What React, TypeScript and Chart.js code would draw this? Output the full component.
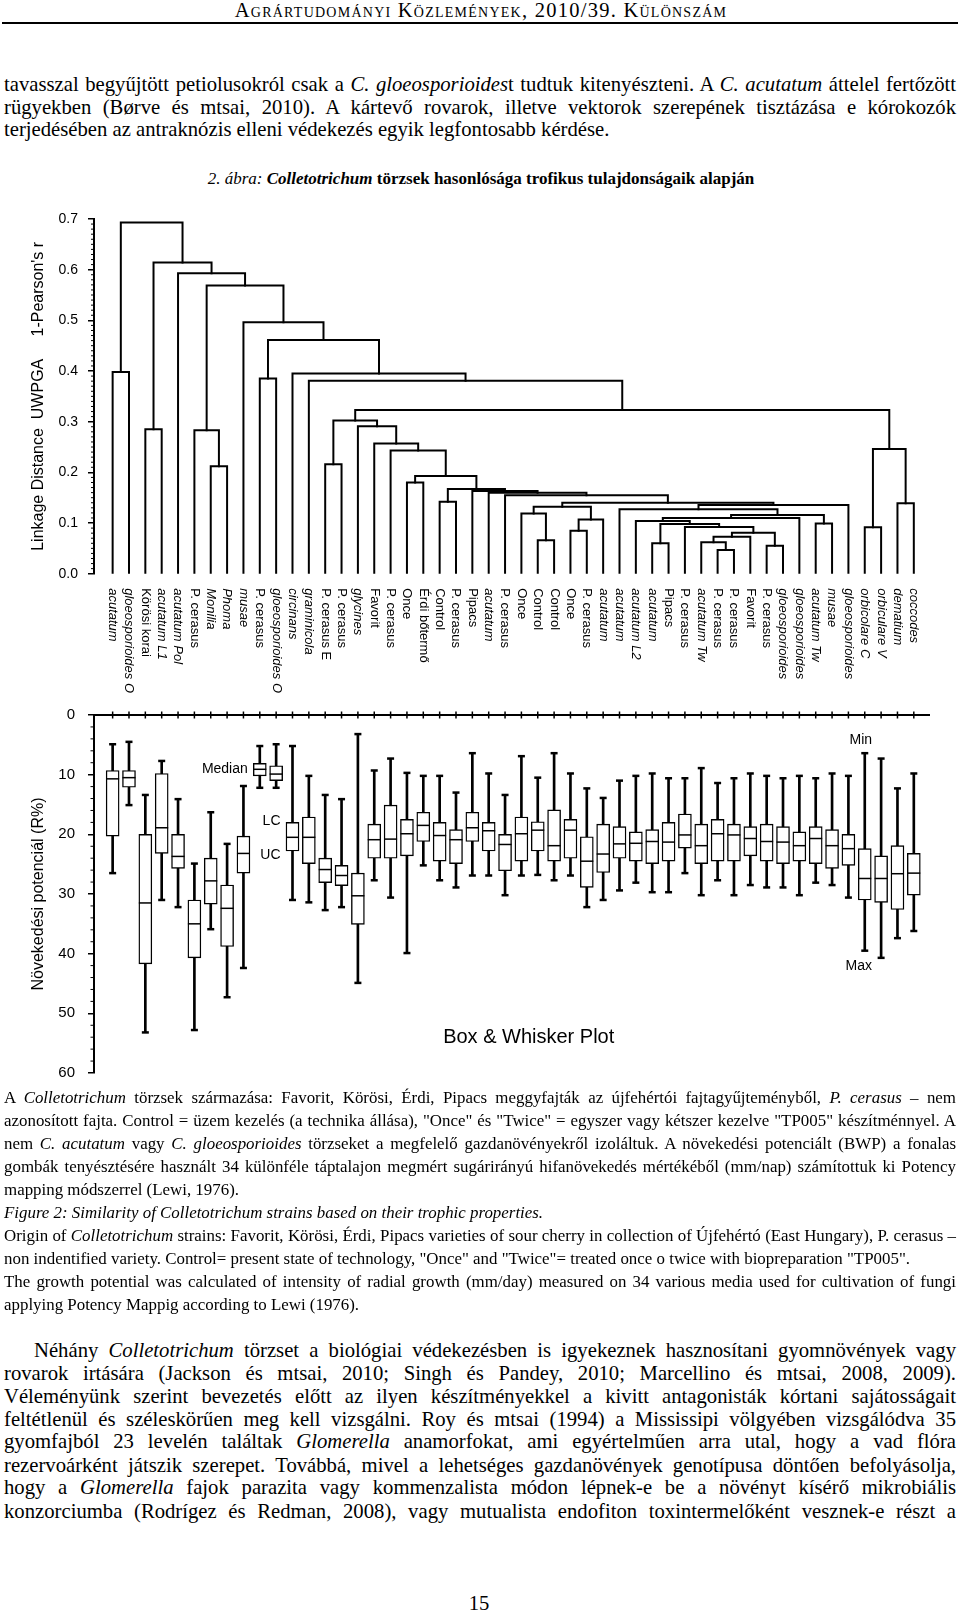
import React, { useEffect, useRef } from "react";
import { Chart, registerables } from "chart.js";

Chart.register(...registerables);

const SANS = "'Liberation Sans', Arial, sans-serif";
const SERIF = "'Liberation Serif', 'Times New Roman', serif";

// ---------------- Dendrogram data ----------------
const leafLabels = [
  "acutatum", "gloeosporioides O", "Körösi korai", "acutatum L1", "acutatum Pol",
  "P. cerasus", "Monilia", "Phoma", "musae", "P. cerasus",
  "gloeosporioides O", "circinans", "graminicola", "P. cerasus E", "P. cerasus",
  "glycines", "Favorit", "P. cerasus", "Once", "Érdi bőtermő",
  "Control", "P. cerasus", "Pipacs", "acutatum", "P. cerasus",
  "Once", "Control", "Control", "Once", "P. cerasus",
  "acutatum", "acutatum", "acutatum L2", "acutatum", "Pipacs",
  "P. cerasus", "acutatum Tw", "P. cerasus", "P. cerasus", "Favorit",
  "P. cerasus", "gloeosporioides", "gloeosporioides", "acutatum Tw", "musae",
  "gloeosporioides", "orbicolare C", "orbiculare V", "dematium", "coccodes",
];
const italicLeaves = [
  true, true, false, true, true, false, true, true, true, false,
  true, true, true, false, false, true, false, false, false, false,
  false, false, false, true, false, false, false, false, false, false,
  true, true, true, true, false, false, true, false, false, false,
  false, true, true, true, true, true, true, true, true, true,
];

// linkage (ids 0..49 = leaves, 50+k = k-th merge)
const mergeLeft = [
  6, 5, 0, 2, 9, 13, 18, 20, 26, 25,
  28, 60, 59, 37, 36, 64, 40, 65, 35, 33,
  69, 32, 71, 43, 72, 31, 75, 62, 24, 23,
  22, 57, 56, 17, 16, 15, 55, 46, 48, 87,
  86, 12, 11, 54, 8, 51, 4, 53, 52,
];
const mergeRight = [
  7, 50, 1, 3, 10, 14, 19, 21, 27, 58,
  29, 30, 61, 38, 63, 39, 41, 66, 67, 34,
  68, 70, 42, 44, 73, 74, 45, 76, 77, 78,
  79, 80, 81, 82, 83, 84, 85, 47, 49, 88,
  89, 90, 91, 92, 93, 94, 95, 96, 97,
];
const mergeHeight = [
  0.212, 0.283, 0.398, 0.285, 0.385, 0.216, 0.18, 0.142, 0.066, 0.119,
  0.085, 0.107, 0.132, 0.047, 0.062, 0.073, 0.055, 0.081, 0.092, 0.06,
  0.098, 0.104, 0.11, 0.099, 0.116, 0.127, 0.1355, 0.14, 0.155, 0.16,
  0.163, 0.167, 0.193, 0.243, 0.257, 0.291, 0.3025, 0.0915, 0.139, 0.246,
  0.323, 0.381, 0.395, 0.461, 0.496, 0.569, 0.593, 0.614, 0.693,
];
const distTicks = [0, 0.1, 0.2, 0.3, 0.4, 0.5, 0.6, 0.7];

// ---------------- Box plot data (R%) ----------------
const boxMin = [
  4.9, 4.5, 13.4, 7.7, 14.1, 24.9, 16.3, 21.6, 11.9, 5.2,
  4.9, 5.2, 10.2, 13.4, 14.1, 3.2, 9.3, 7.3, 9.7, 10.2,
  10.2, 13.0, 6.4, 9.8, 13.4, 6.9, 10.5, 6.4, 9.8, 12.3,
  13.9, 11.0, 10.2, 9.8, 10.6, 10.6, 8.9, 11.4, 10.6, 9.8,
  10.2, 10.6, 10.2, 10.6, 9.8, 10.2, 6.4, 7.3, 12.3, 9.8,
];
const boxQ1 = [
  9.3, 9.3, 20.0, 9.8, 20.0, 31.0, 24.0, 28.5, 20.3, 8.1,
  8.5, 18.0, 17.1, 24.0, 25.2, 26.5, 18.3, 15.1, 17.5, 16.3,
  18.0, 19.2, 16.3, 18.0, 20.0, 17.1, 17.9, 15.9, 17.5, 20.4,
  18.3, 18.7, 19.6, 19.2, 18.0, 16.6, 18.3, 17.5, 18.3, 18.7,
  18.3, 18.7, 19.6, 18.7, 19.2, 20.0, 22.4, 23.6, 21.9, 23.2,
];
const boxMedian = [
  10.7, 10.5, 31.5, 18.9, 23.7, 35.0, 27.8, 32.4, 23.2, 9.1,
  9.9, 20.5, 20.5, 25.9, 26.9, 30.3, 20.9, 20.8, 19.9, 18.5,
  20.2, 20.9, 18.9, 19.4, 21.7, 19.9, 19.3, 21.9, 19.3, 24.5,
  23.3, 21.6, 21.5, 21.2, 21.3, 20.1, 21.9, 19.9, 20.1, 20.7,
  21.2, 21.3, 21.9, 20.7, 21.9, 22.4, 27.4, 27.4, 26.6, 26.5,
];
const boxQ3 = [
  20.3, 12.1, 41.7, 23.2, 25.7, 40.7, 31.7, 38.8, 26.5, 10.2,
  11.0, 22.8, 24.9, 28.1, 28.6, 35.1, 24.0, 24.0, 23.6, 21.2,
  24.5, 24.9, 21.2, 22.8, 26.1, 24.5, 22.8, 24.5, 24.0, 28.9,
  26.4, 24.0, 24.5, 24.9, 24.5, 22.3, 24.9, 24.5, 24.5, 23.6,
  24.5, 24.9, 24.5, 24.9, 25.7, 25.2, 31.0, 31.4, 32.6, 30.2,
];
const boxMax = [
  26.5, 15.1, 53.2, 31.0, 32.2, 52.8, 35.9, 47.3, 42.4, 12.2,
  12.2, 31.0, 31.4, 32.7, 32.2, 44.9, 27.7, 30.6, 39.9, 25.2,
  27.7, 28.9, 26.9, 26.9, 30.2, 26.9, 26.8, 27.7, 26.9, 32.2,
  31.0, 29.4, 28.1, 29.7, 29.7, 26.5, 30.2, 27.7, 30.2, 28.5,
  28.9, 28.9, 30.2, 28.1, 28.5, 30.6, 39.5, 40.7, 37.4, 36.2,
];
const growthTicks = [0, 10, 20, 30, 40, 50, 60];

const X_MIN = -0.14;
const X_MAX = 50.99;

function dendroSegments() {
  const pos: number[] = leafLabels.map((_, i) => i + 1);
  const hgt: number[] = leafLabels.map(() => 0);
  const segs: { x: number; y: number }[][] = [];
  for (let k = 0; k < mergeLeft.length; k++) {
    const a = mergeLeft[k];
    const b = mergeRight[k];
    const h = mergeHeight[k];
    segs.push([
      { x: pos[a], y: hgt[a] },
      { x: pos[a], y: h },
      { x: pos[b], y: h },
      { x: pos[b], y: hgt[b] },
    ]);
    pos.push((pos[a] + pos[b]) / 2);
    hgt.push(h);
  }
  return segs;
}

const dendroExtras = {
  id: "dendroExtras",
  afterDraw(chart: any) {
    const { ctx, chartArea: ca, scales } = chart;
    const x = scales.x;
    const y = scales.y;
    ctx.save();
    ctx.strokeStyle = "#000";
    ctx.lineWidth = 1;
    for (let v = 1; v < 70; v++) {
      if (v % 10 === 0) continue;
      const py = y.getPixelForValue(v / 100);
      ctx.beginPath();
      ctx.moveTo(ca.left - 3, py);
      ctx.lineTo(ca.left, py);
      ctx.stroke();
    }
    ctx.fillStyle = "#000";
    ctx.textAlign = "left";
    ctx.textBaseline = "middle";
    leafLabels.forEach((lab, i) => {
      const px = x.getPixelForValue(i + 1);
      ctx.save();
      ctx.translate(px, ca.bottom + 14.5);
      ctx.rotate(Math.PI / 2);
      ctx.font = `${italicLeaves[i] ? "italic " : ""}13px ${SANS}`;
      ctx.fillText(lab, 0, 0);
      ctx.restore();
    });
    ctx.restore();
  },
};

const boxExtras = {
  id: "boxExtras",
  afterDraw(chart: any) {
    const { ctx, chartArea: ca, scales } = chart;
    const x = scales.x;
    const y = scales.y;
    ctx.save();
    ctx.strokeStyle = "#000";
    ctx.lineWidth = 2;
    ctx.beginPath();
    ctx.moveTo(ca.left, ca.top);
    ctx.lineTo(ca.right, ca.top);
    ctx.stroke();
    ctx.lineWidth = 1.5;
    for (let i = 1; i <= boxMedian.length; i++) {
      const px = x.getPixelForValue(i);
      ctx.beginPath();
      ctx.moveTo(px, ca.top - 3.5);
      ctx.lineTo(px, ca.top + 3.5);
      ctx.stroke();
    }
    ctx.lineWidth = 1;
    for (let v = 2; v < 60; v += 2) {
      if (v % 10 === 0) continue;
      const py = y.getPixelForValue(v);
      ctx.beginPath();
      ctx.moveTo(ca.left - 3.5, py);
      ctx.lineTo(ca.left, py);
      ctx.stroke();
    }
    ctx.fillStyle = "#000";
    ctx.font = `14px ${SANS}`;
    ctx.textBaseline = "middle";
    ctx.textAlign = "right";
    ctx.fillText("Median", x.getPixelForValue(10) - 12, y.getPixelForValue(boxMedian[9]));
    ctx.fillText("LC", x.getPixelForValue(12) - 12, y.getPixelForValue(boxQ1[11]) - 1);
    ctx.fillText("UC", x.getPixelForValue(12) - 12, y.getPixelForValue(boxQ3[11]) + 4);
    ctx.textAlign = "center";
    ctx.fillText("Min", x.getPixelForValue(47) - 4, y.getPixelForValue(boxMin[46]) - 13);
    ctx.fillText("Max", x.getPixelForValue(47) - 6, y.getPixelForValue(boxMax[46]) + 15);
    ctx.font = `20px ${SANS}`;
    ctx.fillText("Box & Whisker Plot", ca.left + (ca.right - ca.left) * 0.52, ca.top + (ca.bottom - ca.top) * 0.9);
    ctx.restore();
  },
};

function axisY(min: number, max: number, digits: number, title: string, reverse: boolean, tickSize: number, tickPad: number) {
  return {
    type: "linear",
    position: "left",
    min,
    max,
    reverse,
    afterFit: (s: any) => {
      s.width = 94;
    },
    afterBuildTicks: (s: any) => {
      const src = digits ? distTicks : growthTicks;
      s.ticks = src.map((v) => ({ value: v }));
    },
    ticks: {
      color: "#000",
      padding: tickPad,
      font: { family: SANS, size: tickSize },
      callback: (v: any) => Number(v).toFixed(digits),
    },
    grid: { drawOnChartArea: false, drawTicks: true, tickLength: 6, color: "#000", lineWidth: 1.5 },
    border: { display: true, color: "#000", width: 2 },
    title: {
      display: true,
      text: title,
      color: "#000",
      font: { family: SANS, size: 16 },
      padding: { top: 29, bottom: 0 },
    },
  };
}

function TL(props: any) {
  const { y, size, just, left = 4, width = 952, center, children, style } = props;
  const align = center ? "center" : just ? "justify" : "left";
  return (
    <div
      style={{
        position: "absolute",
        left,
        top: y - 0.8375 * size,
        width,
        fontFamily: SERIF,
        fontSize: size,
        lineHeight: `${size}px`,
        textAlign: align as any,
        textAlignLast: align as any,
        color: "#000",
        ...style,
      }}
    >
      {children}
    </div>
  );
}

const BODY = 20.7;
const CAP = 16.9;

export default function App() {
  const dRef = useRef<HTMLCanvasElement>(null);
  const bRef = useRef<HTMLCanvasElement>(null);

  useEffect(() => {
    const segs = dendroSegments();
    const c1 = new Chart(dRef.current as HTMLCanvasElement, {
      type: "line",
      data: {
        datasets: segs.map((s) => ({
          data: s,
          borderColor: "#000",
          borderWidth: 2,
          pointRadius: 0,
          fill: false,
          tension: 0,
          borderCapStyle: "square",
          borderJoinStyle: "miter",
        })),
      } as any,
      options: {
        animation: false,
        responsive: false,
        events: [],
        layout: { padding: { top: 24, right: 30, bottom: 131.3, left: 0 } },
        plugins: { legend: { display: false }, tooltip: { enabled: false } },
        scales: {
          x: { type: "linear", min: X_MIN, max: X_MAX, display: false },
          y: axisY(0, 0.7, 1, "Linkage Distance  UWPGA     1-Pearson's r", false, 14, 10),
        } as any,
      },
      plugins: [dendroExtras],
    });

    const idx = boxMedian.map((_, i) => i);
    const caps = idx
      .map((i) => ({ x: i + 1, y: boxMin[i] }))
      .concat(idx.map((i) => ({ x: i + 1, y: boxMax[i] })));
    const c2 = new Chart(bRef.current as HTMLCanvasElement, {
      type: "bar",
      data: {
        datasets: [
          {
            type: "bar",
            data: idx.map((i) => ({ x: i + 1, y: [boxMin[i], boxMax[i]] })),
            backgroundColor: "#000",
            borderWidth: 0,
            barThickness: 2,
            grouped: false,
            order: 3,
          },
          {
            type: "bar",
            data: idx.map((i) => ({ x: i + 1, y: [boxQ1[i], boxQ3[i]] })),
            backgroundColor: "#fff",
            borderColor: "#000",
            borderWidth: 1.4,
            borderSkipped: false,
            barThickness: 13,
            grouped: false,
            order: 2,
          },
          {
            type: "line",
            data: caps,
            showLine: false,
            pointStyle: "line",
            pointRadius: 3.5,
            pointBorderWidth: 2.5,
            pointBorderColor: "#000",
            borderColor: "#000",
            order: 1,
          },
          {
            type: "line",
            data: idx.map((i) => ({ x: i + 1, y: boxMedian[i] })),
            showLine: false,
            pointStyle: "line",
            pointRadius: 6.5,
            pointBorderWidth: 1.5,
            pointBorderColor: "#000",
            borderColor: "#000",
            order: 0,
          },
        ],
      } as any,
      options: {
        animation: false,
        responsive: false,
        events: [],
        layout: { padding: { top: 22, right: 30, bottom: 22, left: 0 } },
        plugins: { legend: { display: false }, tooltip: { enabled: false } },
        scales: {
          x: { type: "linear", min: X_MIN, max: X_MAX, display: false, offset: false },
          y: axisY(0, 60, 0, "Növekedési potenciál (R%)", true, 15, 13),
        } as any,
      },
      plugins: [boxExtras],
    });
    return () => {
      c1.destroy();
      c2.destroy();
    };
  }, []);

  const capY = [1104.2, 1127.1, 1150.1, 1173.0, 1196.0, 1218.9, 1241.8, 1264.8, 1287.7, 1310.7];
  const bodyY = [1357, 1380.3, 1403, 1426, 1448.7, 1472, 1494.7, 1518];

  return (
    <div style={{ position: "absolute", left: 0, top: 0, width: 960, height: 1613, background: "#fff", overflow: "hidden" }}>
      <TL y={17.5} size={20.5} center left={0} width={962} style={{ fontVariant: "small-caps", letterSpacing: "1.25px" }}>
        Agrártudományi Közlemények, 2010/39. Különszám
      </TL>
      <div style={{ position: "absolute", left: 2, top: 22, width: 956, height: 2, background: "#000" }} />

      <TL y={91.7} size={BODY} just>
        tavasszal begyűjtött petiolusokról csak a <i>C. gloeosporioides</i>t tudtuk kitenyészteni. A <i>C. acutatum</i> áttelel fertőzött
      </TL>
      <TL y={114.3} size={BODY} just>
        rügyekben (Børve és mtsai, 2010). A kártevő rovarok, illetve vektorok szerepének tisztázása e kórokozók
      </TL>
      <TL y={136.7} size={BODY}>
        terjedésében az antraknózis elleni védekezés egyik legfontosabb kérdése.
      </TL>

      <TL y={184} size={17} center left={0} width={962}>
        <i>2. ábra: </i>
        <b>
          <i>Colletotrichum</i> törzsek hasonlósága trofikus tulajdonságaik alapján
        </b>
      </TL>

      <canvas ref={dRef} width={960} height={510} style={{ position: "absolute", left: 0, top: 195 }} />
      <canvas ref={bRef} width={960} height={402} style={{ position: "absolute", left: 0, top: 693 }} />

      <TL y={capY[0]} size={CAP} just>
        A <i>Colletotrichum</i> törzsek származása: Favorit, Körösi, Érdi, Pipacs meggyfajták az újfehértói fajtagyűjteményből, <i>P. cerasus</i> – nem
      </TL>
      <TL y={capY[1]} size={CAP} just>
        {'azonosított fajta. Control = üzem kezelés (a technika állása), "Once" és "Twice" = egyszer vagy kétszer kezelve "TP005" készítménnyel. A'}
      </TL>
      <TL y={capY[2]} size={CAP} just>
        nem <i>C. acutatum</i> vagy <i>C. gloeosporioides</i> törzseket a megfelelő gazdanövényekről izoláltuk. A növekedési potenciált (BWP) a fonalas
      </TL>
      <TL y={capY[3]} size={CAP} just>
        gombák tenyésztésére használt 34 különféle táptalajon megmért sugárirányú hifanövekedés mértékéből (mm/nap) számítottuk ki Potency
      </TL>
      <TL y={capY[4]} size={CAP}>
        mapping módszerrel (Lewi, 1976).
      </TL>
      <TL y={capY[5]} size={CAP}>
        <i>Figure 2: Similarity of Colletotrichum strains based on their trophic properties.</i>
      </TL>
      <TL y={capY[6]} size={CAP} just>
        Origin of <i>Colletotrichum</i> strains: Favorit, Körösi, Érdi, Pipacs varieties of sour cherry in collection of Újfehértó (East Hungary), P. cerasus –
      </TL>
      <TL y={capY[7]} size={CAP}>
        {'non indentified variety. Control= present state of technology, "Once" and "Twice"= treated once o twice with biopreparation "TP005".'}
      </TL>
      <TL y={capY[8]} size={CAP} just>
        The growth potential was calculated of intensity of radial growth (mm/day) measured on 34 various media used for cultivation of fungi
      </TL>
      <TL y={capY[9]} size={CAP}>
        applying Potency Mappig according to Lewi (1976).
      </TL>

      <TL y={bodyY[0]} size={BODY} just left={34} width={922}>
        Néhány <i>Colletotrichum</i> törzset a biológiai védekezésben is igyekeznek hasznosítani gyomnövények vagy
      </TL>
      <TL y={bodyY[1]} size={BODY} just>
        rovarok irtására (Jackson és mtsai, 2010; Singh és Pandey, 2010; Marcellino és mtsai, 2008, 2009).
      </TL>
      <TL y={bodyY[2]} size={BODY} just>
        Véleményünk szerint bevezetés előtt az ilyen készítményekkel a kivitt antagonisták kórtani sajátosságait
      </TL>
      <TL y={bodyY[3]} size={BODY} just>
        feltétlenül és széleskörűen meg kell vizsgálni. Roy és mtsai (1994) a Mississipi völgyében vizsgálódva 35
      </TL>
      <TL y={bodyY[4]} size={BODY} just>
        gyomfajból 23 levelén találtak <i>Glomerella</i> anamorfokat, ami egyértelműen arra utal, hogy a vad flóra
      </TL>
      <TL y={bodyY[5]} size={BODY} just>
        rezervoárként játszik szerepet. Továbbá, mivel a lehetséges gazdanövények genotípusa döntően befolyásolja,
      </TL>
      <TL y={bodyY[6]} size={BODY} just>
        hogy a <i>Glomerella</i> fajok parazita vagy kommenzalista módon lépnek-e be a növényt kísérő mikrobiális
      </TL>
      <TL y={bodyY[7]} size={BODY} just>
        konzorciumba (Rodrígez és Redman, 2008), vagy mutualista endofiton toxintermelőként vesznek-e részt a
      </TL>

      <TL y={1610} size={BODY} center left={0} width={958}>
        15
      </TL>
    </div>
  );
}
